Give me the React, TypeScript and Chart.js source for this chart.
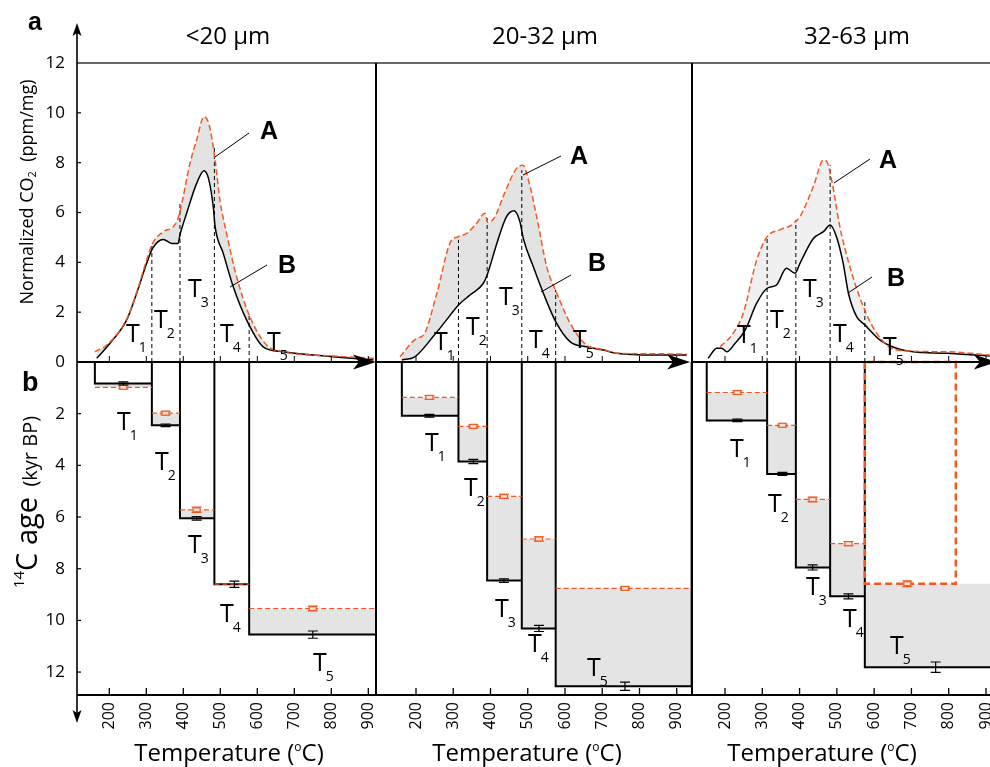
import React, { useEffect, useRef } from 'react';
import { Chart, registerables } from 'chart.js';

Chart.register(...registerables);

// ---------------- data ----------------
const TEMP_TICKS = [200, 300, 400, 500, 600, 700, 800, 900];
const CO2_TICKS = [0, 2, 4, 6, 8, 10, 12];
const AGE_TICKS = [2, 4, 6, 8, 10, 12];
const PANEL_TITLES = ['<20 µm', '20-32 µm', '32-63 µm'];
const STEP_NAMES = ['1', '2', '3', '4', '5'];

// Panel 1: <20 µm
const P1_A_TEMP = [161, 193, 247, 274, 301, 317, 346, 373, 386, 396, 418, 436, 456, 470, 486, 499, 517, 544, 580, 625, 670, 805, 915];
const P1_A_CO2 = [0.41, 0.68, 1.72, 2.8, 4.1, 4.76, 5.23, 5.43, 5.77, 6.37, 7.97, 8.91, 9.84, 9.51, 8.1, 6.5, 5.16, 3.42, 1.82, 0.68, 0.41, 0.24, 0.15];
const P1_B_TEMP = [166, 202, 247, 274, 301, 317, 346, 369, 386, 391, 409, 436, 456, 468, 481, 486, 508, 535, 571, 616, 670, 805, 914];
const P1_B_CO2 = [0.15, 0.75, 1.69, 2.76, 3.96, 4.56, 4.92, 4.76, 4.76, 5.1, 5.97, 7.17, 7.68, 7.37, 6.23, 5.43, 4.36, 3.02, 1.69, 0.61, 0.41, 0.21, 0.08];
const P1_BOUNDS = [161, 315, 391, 484, 578, 921];
const P1_BOUND_TOPS = [4.7, 6.4, 8.7, 1.95];
const P1_AGE_B = [0.83, 2.45, 6.05, 8.6, 10.55];
const P1_AGE_A = [0.98, 1.98, 5.72, 8.6, 9.54];
const P1_ERR_TEMP = [238, 352, 436, 538, 750];
const P1_ERR_B = [0.06, 0.05, 0.07, 0.12, 0.14];
const P1_ERR_A = [0.06, 0.07, 0.1, 0, 0.09];

// Panel 2: 20-32 µm
const P2_A_TEMP = [157, 202, 220, 256, 291, 314, 336, 363, 385, 393, 412, 434, 470, 487, 502, 524, 551, 578, 614, 658, 703, 739, 830, 927];
const P2_A_CO2 = [0.21, 0.95, 1.08, 2.76, 4.76, 5.03, 5.16, 5.57, 5.97, 5.6, 5.83, 6.64, 7.77, 7.9, 7.3, 5.83, 3.82, 2.76, 1.55, 0.68, 0.5, 0.35, 0.33, 0.32];
const P2_B_TEMP = [162, 197, 246, 282, 314, 345, 381, 391, 417, 443, 463, 479, 488, 515, 542, 575, 614, 658, 703, 739, 837, 927];
const P2_B_CO2 = [0.08, 0.21, 1.02, 1.69, 2.29, 2.69, 3.16, 3.49, 4.76, 5.83, 6.07, 5.63, 4.96, 3.82, 2.76, 1.62, 0.81, 0.61, 0.48, 0.35, 0.28, 0.28];
const P2_BOUNDS = [162, 314, 391, 484, 575, 940];
const P2_BOUND_TOPS = [4.9, 5.9, 7.7, 2.9];
const P2_AGE_B = [2.08, 3.85, 8.46, 10.31, 12.55];
const P2_AGE_A = [1.37, 2.49, 5.2, 6.85, 8.76];
const P2_ERR_TEMP = [236, 354, 436, 530, 761];
const P2_ERR_B = [0.05, 0.08, 0.07, 0.12, 0.16];
const P2_ERR_A = [0.07, 0.06, 0.08, 0.08, 0.06];

// Panel 3: 32-63 µm
const P3_A_TEMP = [187, 222, 249, 285, 313, 347, 383, 388, 401, 437, 464, 473, 486, 508, 535, 571, 607, 660, 794, 910];
const P3_A_CO2 = [0.61, 1.15, 1.96, 4.09, 5.03, 5.3, 5.54, 5.62, 5.83, 7.04, 8.1, 8.04, 7.3, 5.43, 3.82, 2.22, 1.15, 0.48, 0.41, 0.28];
const P3_B_TEMP = [155, 178, 191, 205, 227, 254, 285, 313, 338, 365, 388, 401, 437, 464, 482, 499, 517, 531, 553, 575, 616, 660, 705, 794, 910];
const P3_B_CO2 = [0.15, 0.55, 0.55, 0.41, 0.75, 1.28, 2.36, 2.96, 3.09, 3.76, 3.56, 3.96, 4.96, 5.23, 5.5, 5.03, 3.96, 2.76, 1.82, 1.49, 0.88, 0.55, 0.41, 0.35, 0.24];
const P3_BOUNDS = [151, 313, 390, 482, 575, 1000];
const P3_A_BOUNDS = [151, 313, 390, 482, 575, 819];
const P3_BOUND_TOPS = [4.96, 5.7, 7.9, 2.4];
const P3_AGE_B = [2.26, 4.33, 7.95, 9.07, 11.81];
const P3_AGE_A = [1.18, 2.45, 5.32, 7.03, 8.58];
const P3_ERR_TEMP_B = [233, 354, 435, 531, 765];
const P3_ERR_TEMP_A = [233, 354, 435, 531, 689];
const P3_ERR_B = [0.05, 0.06, 0.1, 0.1, 0.2];
const P3_ERR_A = [0.07, 0.05, 0.09, 0.08, 0.11];

// ---------------- layout / style ----------------
const W = 990;
const H = 767;
const TOP = 63;
const XAXIS_H = 72;
const YAXIS_W = 77;
const CO2_MIN = -13.364, CO2_MAX = 12;
const AGE_MIN = -11.571, AGE_MAX = 12.887;
const FONT = '"Open Sans", "Noto Sans", "DejaVu Sans", sans-serif';
const BOLD_FONT = '"Liberation Sans", "DejaVu Sans", sans-serif';
const ORANGE = '#f15a24';
const INK = '#000000';
const BOTTOM_FILL = '#e4e4e4';

type XY = [number, number];
interface PanelCfg {
  title: string;
  aT: number[]; aV: number[]; bT: number[]; bV: number[];
  bounds: number[]; aBounds: number[]; boundTops: number[];
  ageA: number[]; ageB: number[];
  errXA: number[]; errXB: number[]; errA: number[]; errB: number[];
  xMin: number; xMax: number; padLeft: number; padRight: number; tip: number;
  titleX: number; tempX: number; topFill: string; aFullLast: boolean;
  tTop: XY[]; tBot: XY[];
  aText: XY; aLead: [XY, XY]; bText: XY; bLead: [XY, XY];
}

const PANELS: PanelCfg[] = [
  {
    title: PANEL_TITLES[0], aT: P1_A_TEMP, aV: P1_A_CO2, bT: P1_B_TEMP, bV: P1_B_CO2,
    bounds: P1_BOUNDS, aBounds: P1_BOUNDS, boundTops: P1_BOUND_TOPS, ageA: P1_AGE_A, ageB: P1_AGE_B,
    errXA: P1_ERR_TEMP, errXB: P1_ERR_TEMP, errA: P1_ERR_A, errB: P1_ERR_B,
    xMin: 112.7, xMax: 920.8, padLeft: 0, padRight: W - 376, tip: 920.8,
    titleX: 228, tempX: 229, topFill: '#e3e3e3', aFullLast: false,
    tTop: [[126, 342], [154, 328], [188, 297], [220, 342], [267, 350]],
    tBot: [[117, 430], [155, 470], [188, 553], [220, 622], [313, 671]],
    aText: [260, 139], aLead: [[249, 133], [215, 157]], bText: [278, 273], bLead: [[267, 265], [230, 287]],
  },
  {
    title: PANEL_TITLES[1], aT: P2_A_TEMP, aV: P2_A_CO2, bT: P2_B_TEMP, bV: P2_B_CO2,
    bounds: P2_BOUNDS, aBounds: P2_BOUNDS, boundTops: P2_BOUND_TOPS, ageA: P2_AGE_A, ageB: P2_AGE_B,
    errXA: P2_ERR_TEMP, errXB: P2_ERR_TEMP, errA: P2_ERR_A, errB: P2_ERR_B,
    xMin: 92.6, xMax: 941, padLeft: 376, padRight: W - 692, tip: 935.8,
    titleX: 545, tempX: 527, topFill: '#e3e3e3', aFullLast: false,
    tTop: [[434, 350], [466, 335], [499, 305], [529, 348], [573, 348]],
    tBot: [[425, 451], [464, 496], [495, 617], [528, 652], [587, 676]],
    aText: [570, 164], aLead: [[561, 156], [523, 175]], bText: [588, 271], bLead: [[571, 275], [541, 292]],
  },
  {
    title: PANEL_TITLES[2], aT: P3_A_TEMP, aV: P3_A_CO2, bT: P3_B_TEMP, bV: P3_B_CO2,
    bounds: P3_BOUNDS, aBounds: P3_A_BOUNDS, boundTops: P3_BOUND_TOPS, ageA: P3_AGE_A, ageB: P3_AGE_B,
    errXA: P3_ERR_TEMP_A, errXB: P3_ERR_TEMP_B, errA: P3_ERR_A, errB: P3_ERR_B,
    xMin: 111.5, xMax: 910.7, padLeft: 692, padRight: 0, tip: 929,
    titleX: 857, tempX: 822, topFill: '#f0f0f0', aFullLast: true,
    tTop: [[737, 343], [770, 328], [803, 297], [833, 342], [883, 355]],
    tBot: [[730, 457], [768, 512], [806, 595], [843, 627], [890, 654]],
    aText: [879, 168], aLead: [[870, 159], [834, 183]], bText: [887, 286], bLead: [[872, 277], [848, 293]],
  },
];

// ---------------- drawing helpers ----------------
type Run = { t: string; size: number; dy?: number; dx?: number; bold?: boolean; fam?: string };
const runFont = (r: Run) => `${r.bold ? 'bold ' : ''}${r.size}px ${r.fam || FONT}`;

function drawRuns(ctx: CanvasRenderingContext2D, runs: Run[], x: number, y: number, align: 'left' | 'center', rot = 0) {
  ctx.save();
  ctx.translate(x, y);
  if (rot) ctx.rotate(rot);
  ctx.textAlign = 'left';
  ctx.textBaseline = 'alphabetic';
  ctx.fillStyle = INK;
  let total = 0;
  const widths = runs.map((r) => {
    ctx.font = runFont(r);
    const w = ctx.measureText(r.t).width + (r.dx || 0);
    total += w;
    return w;
  });
  let cx = align === 'center' ? -total / 2 : 0;
  runs.forEach((r, i) => {
    ctx.font = runFont(r);
    ctx.fillText(r.t, cx + (r.dx || 0), r.dy || 0);
    cx += widths[i];
  });
  ctx.restore();
}

function seg(ctx: CanvasRenderingContext2D, x1: number, y1: number, x2: number, y2: number, color: string, w: number) {
  ctx.save();
  ctx.strokeStyle = color;
  ctx.lineWidth = w;
  ctx.setLineDash([]);
  ctx.beginPath();
  ctx.moveTo(x1, y1);
  ctx.lineTo(x2, y2);
  ctx.stroke();
  ctx.restore();
}

function makeDecor(p: PanelCfg, first: boolean) {
  return {
    id: 'decor',
    afterDraw(chart: any) {
      const ctx: CanvasRenderingContext2D = chart.ctx;
      const a = chart.chartArea;
      const xs = chart.scales.x;
      const yT = chart.scales.yTop;
      const yB = chart.scales.yBot;
      const y0 = yT.getPixelForValue(0);
      ctx.save();

      // frame
      seg(ctx, a.left, a.top, a.right, a.top, '#333', 1.5);
      seg(ctx, a.left, a.bottom, a.right, a.bottom, INK, 2);
      if (!first) seg(ctx, a.left, a.top, a.left, a.bottom, INK, 2);

      // x tick marks (bottom axis and zero line)
      for (const t of TEMP_TICKS) {
        const px = xs.getPixelForValue(t);
        seg(ctx, px, a.bottom, px, a.bottom - 7, INK, 1.3);
        seg(ctx, px, y0, px, y0 - 6, INK, 1);
      }

      // zero line with arrow
      const tip = xs.getPixelForValue(p.tip);
      seg(ctx, a.left, y0, tip - 12, y0, INK, 2);
      ctx.fillStyle = INK;
      ctx.beginPath();
      ctx.moveTo(tip, y0);
      ctx.lineTo(tip - 23, y0 - 7.5);
      ctx.lineTo(tip - 17, y0);
      ctx.lineTo(tip - 23, y0 + 7.5);
      ctx.closePath();
      ctx.fill();

      if (first) {
        const ax = a.left;
        seg(ctx, ax, 32, ax, 714, INK, 1.6);
        ctx.fillStyle = INK;
        ctx.beginPath();
        ctx.moveTo(ax, 23); ctx.lineTo(ax - 4.5, 36); ctx.lineTo(ax, 33); ctx.lineTo(ax + 4.5, 36); ctx.closePath();
        ctx.fill();
        ctx.beginPath();
        ctx.moveTo(ax, 723); ctx.lineTo(ax - 4.5, 710); ctx.lineTo(ax, 713); ctx.lineTo(ax + 4.5, 710); ctx.closePath();
        ctx.fill();
        for (const v of CO2_TICKS) {
          if (v === 0 || v === 12) continue;
          const py = yT.getPixelForValue(v);
          seg(ctx, ax, py, ax + 4, py, INK, 1.2);
        }
        for (const v of AGE_TICKS) {
          const py = yB.getPixelForValue(v);
          seg(ctx, ax, py, ax + 4, py, INK, 1.2);
        }
        drawRuns(ctx, [{ t: 'a', size: 25, bold: true, fam: BOLD_FONT }], 28, 30, 'left');
        drawRuns(ctx, [{ t: 'b', size: 27, bold: true, fam: BOLD_FONT }], 22, 391, 'left');
        drawRuns(ctx, [
          { t: 'Normalized CO', size: 18 },
          { t: '2', size: 11, dy: 3 },
          { t: '  (ppm/mg)', size: 18 },
        ], 33, 192, 'center', -Math.PI / 2);
        drawRuns(ctx, [
          { t: '14', size: 15, dy: -13 },
          { t: 'C age', size: 29 },
          { t: '  (kyr BP)', size: 20 },
        ], 37, 502, 'center', -Math.PI / 2);
      }

      // error bars
      const errBar = (t: number, v: number, e: number, col: string, box: boolean) => {
        if (!e) return;
        const px = xs.getPixelForValue(t);
        const yc = yB.getPixelForValue(v);
        const y1 = yB.getPixelForValue(v - e);
        const y2 = yB.getPixelForValue(v + e);
        ctx.save();
        ctx.strokeStyle = col;
        ctx.lineWidth = 1.2;
        ctx.setLineDash([]);
        ctx.beginPath();
        ctx.moveTo(px, y1); ctx.lineTo(px, y2);
        ctx.moveTo(px - 5, y1); ctx.lineTo(px + 5, y1);
        ctx.moveTo(px - 5, y2); ctx.lineTo(px + 5, y2);
        ctx.stroke();
        if (box) {
          ctx.fillStyle = '#fde3d8';
          ctx.fillRect(px - 3.5, yc - 2, 7, 4);
          ctx.strokeRect(px - 3.5, yc - 2, 7, 4);
        }
        ctx.restore();
      };
      p.ageA.forEach((v, i) => errBar(p.errXA[i], v, p.errA[i], ORANGE, true));
      p.ageB.forEach((v, i) => errBar(p.errXB[i], v, p.errB[i], INK, false));

      // texts
      drawRuns(ctx, [{ t: p.title, size: 24 }], p.titleX, 44, 'center');
      drawRuns(ctx, [
        { t: 'Temperature (', size: 24 },
        { t: 'o', size: 12, dy: -10 },
        { t: 'C)', size: 24 },
      ], p.tempX, 761, 'center');
      const tLabel = (pos: XY, d: string) =>
        drawRuns(ctx, [{ t: 'T', size: 25 }, { t: d, size: 14, dy: 10, dx: -1 }], pos[0], pos[1], 'left');
      p.tTop.forEach((pos, i) => tLabel(pos, STEP_NAMES[i]));
      p.tBot.forEach((pos, i) => tLabel(pos, STEP_NAMES[i]));

      seg(ctx, p.aLead[0][0], p.aLead[0][1], p.aLead[1][0], p.aLead[1][1], INK, 1);
      seg(ctx, p.bLead[0][0], p.bLead[0][1], p.bLead[1][0], p.bLead[1][1], INK, 1);
      drawRuns(ctx, [{ t: 'A', size: 25, bold: true, fam: BOLD_FONT }], p.aText[0], p.aText[1], 'left');
      drawRuns(ctx, [{ t: 'B', size: 25, bold: true, fam: BOLD_FONT }], p.bText[0], p.bText[1], 'left');

      ctx.restore();
    },
  };
}

const tickFont = { family: FONT, size: 17 };
const yBase = {
  type: 'linear', position: 'left',
  grid: { display: false, drawTicks: false }, border: { display: false },
  ticks: { padding: 12, font: tickFont, color: INK, autoSkip: false },
};

function buildChart(canvas: HTMLCanvasElement, p: PanelCfg, first: boolean) {
  const pts = (xs: number[], ys: number[]) => xs.map((x, i) => ({ x, y: ys[i] }));
  const n = p.ageB.length;

  // vertical dashed step boundaries (top)
  const boundLines: any[] = [];
  p.boundTops.forEach((h, i) => {
    const x = p.bounds[i + 1];
    boundLines.push({ x, y: 0 }, { x, y: h }, { x, y: null });
  });

  // gray band between the two age steps (bottom)
  const band: any[] = [];
  for (let i = 0; i < n; i++) band.push({ x: p.bounds[i], y: p.ageA[i] }, { x: p.bounds[i + 1], y: p.ageA[i] });
  for (let i = n - 1; i >= 0; i--) band.push({ x: p.bounds[i + 1], y: p.ageB[i] }, { x: p.bounds[i], y: p.ageB[i] });
  band.push({ ...band[0] });

  // black step boxes (sample B)
  const boxes: any[] = [];
  for (let i = 0; i < n; i++) {
    const x0 = p.bounds[i];
    const x1 = p.bounds[i + 1];
    const v = p.ageB[i];
    boxes.push({ x: x0, y: 0 }, { x: x0, y: v }, { x: x1, y: v }, { x: x1, y: 0 }, { x: x1, y: null });
  }

  // orange dashed levels (sample A)
  const levels: any[] = [];
  for (let i = 0; i < n; i++) {
    if (p.aFullLast && i === n - 1) continue;
    levels.push({ x: p.aBounds[i], y: p.ageA[i] }, { x: p.aBounds[i + 1], y: p.ageA[i] }, { x: p.aBounds[i + 1], y: null });
  }

  const datasets: any[] = [
    {
      label: 'A', data: pts(p.aT, p.aV), yAxisID: 'yTop', borderColor: ORANGE, borderWidth: 1.5,
      borderDash: [6, 3], pointRadius: 0, cubicInterpolationMode: 'monotone',
      fill: { target: 1 }, backgroundColor: p.topFill, order: 1,
    },
    {
      label: 'B', data: pts(p.bT, p.bV), yAxisID: 'yTop', borderColor: INK, borderWidth: 1.5,
      pointRadius: 0, cubicInterpolationMode: 'monotone', fill: false, order: 2,
    },
    {
      label: 'bounds', data: boundLines, yAxisID: 'yTop', borderColor: INK, borderWidth: 1,
      borderDash: [4, 3], pointRadius: 0, fill: false, order: 3,
    },
    {
      label: 'band', data: band, yAxisID: 'yBot', borderColor: 'rgba(0,0,0,0)', borderWidth: 0,
      backgroundColor: BOTTOM_FILL, fill: 'shape', pointRadius: 0, order: 9,
    },
    {
      label: 'ageB', data: boxes, yAxisID: 'yBot', borderColor: INK, borderWidth: 2,
      pointRadius: 0, fill: false, order: 5,
    },
    {
      label: 'ageA', data: levels, yAxisID: 'yBot', borderColor: ORANGE, borderWidth: 1.2,
      borderDash: [5, 3], pointRadius: 0, fill: false, order: 4,
    },
  ];
  if (p.aFullLast) {
    const i = n - 1;
    const x0 = p.aBounds[i];
    const x1 = p.aBounds[i + 1];
    const v = p.ageA[i];
    datasets.push({
      label: 'ageA-last', data: [{ x: x0, y: 0 }, { x: x0, y: v }, { x: x1, y: v }, { x: x1, y: 0 }, { x: x0, y: 0 }],
      yAxisID: 'yBot', borderColor: ORANGE, borderWidth: 2.5, borderDash: [7, 4], pointRadius: 0, fill: false, order: 3,
    });
  }

  return new Chart(canvas, {
    type: 'line',
    data: { datasets },
    plugins: [makeDecor(p, first)],
    options: {
      animation: false,
      responsive: false,
      events: [],
      layout: { padding: { left: p.padLeft, right: p.padRight, top: TOP, bottom: 0 } },
      plugins: {
        legend: { display: false },
        tooltip: { enabled: false },
        filler: { drawTime: 'beforeDatasetsDraw', propagate: false },
      },
      scales: {
        x: {
          type: 'linear', min: p.xMin, max: p.xMax,
          grid: { display: false, drawTicks: false }, border: { display: false },
          afterBuildTicks: (s: any) => { s.ticks = TEMP_TICKS.map((v) => ({ value: v })); },
          afterFit: (s: any) => { s.height = XAXIS_H; s.paddingLeft = 0; s.paddingRight = 0; },
          ticks: {
            minRotation: 90, maxRotation: 90, autoSkip: false, padding: 7,
            font: { family: FONT, size: 16 }, color: INK, callback: (v: any) => String(v),
          },
        },
        yTop: {
          ...yBase, display: first, min: CO2_MIN, max: CO2_MAX,
          afterBuildTicks: (s: any) => { s.ticks = CO2_TICKS.map((v) => ({ value: v })); },
          afterFit: (s: any) => { s.width = first ? YAXIS_W : 0; s.paddingTop = 0; s.paddingBottom = 0; },
        },
        yBot: {
          ...yBase, display: false, min: AGE_MIN, max: AGE_MAX, reverse: true,
        },
      },
    } as any,
  });
}

// separate chart carrying only the 14C-age axis of the left panel (same chart area as panel 1)
function buildAgeAxisChart(canvas: HTMLCanvasElement) {
  return new Chart(canvas, {
    type: 'line',
    data: { datasets: [] },
    options: {
      animation: false,
      responsive: false,
      events: [],
      layout: { padding: { left: 0, right: W - 376, top: TOP, bottom: XAXIS_H } },
      plugins: { legend: { display: false }, tooltip: { enabled: false } },
      scales: {
        x: { type: 'linear', display: false, min: PANELS[0].xMin, max: PANELS[0].xMax },
        yBot: {
          ...yBase, display: true, min: AGE_MIN, max: AGE_MAX, reverse: true,
          afterBuildTicks: (s: any) => { s.ticks = AGE_TICKS.map((v) => ({ value: v })); },
          afterFit: (s: any) => { s.width = YAXIS_W; s.paddingTop = 0; s.paddingBottom = 0; },
        },
      },
    } as any,
  });
}

export default function App() {
  const r0 = useRef<HTMLCanvasElement>(null);
  const r1 = useRef<HTMLCanvasElement>(null);
  const r2 = useRef<HTMLCanvasElement>(null);
  const rAxis = useRef<HTMLCanvasElement>(null);
  const refs = [r0, r1, r2];

  useEffect(() => {
    const charts = PANELS.map((p, i) => buildChart(refs[i].current as HTMLCanvasElement, p, i === 0));
    charts.push(buildAgeAxisChart(rAxis.current as HTMLCanvasElement));
    return () => charts.forEach((c) => c.destroy());
  }, []);

  const cs: React.CSSProperties = { position: 'absolute', left: 0, top: 0, width: W, height: H };
  return (
    <div style={{ position: 'absolute', left: 0, top: 0, width: W, height: H, overflow: 'hidden', background: '#fff' }}>
      {refs.map((r, i) => (
        <canvas key={i} ref={r} width={W} height={H} style={cs} />
      ))}
      <canvas ref={rAxis} width={W} height={H} style={cs} />
    </div>
  );
}
